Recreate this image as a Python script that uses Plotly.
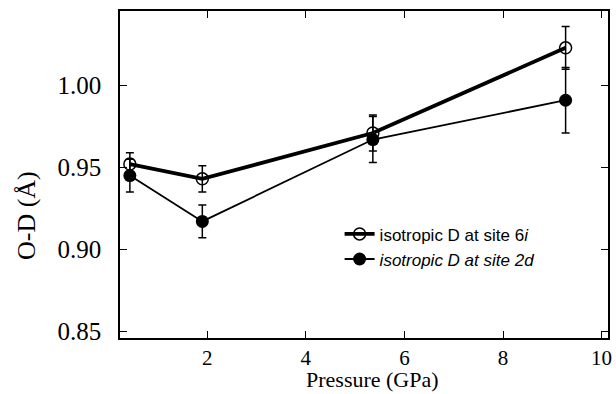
import plotly.graph_objects as go

pressure_6i = [0.43, 1.9, 5.36, 9.27]
od_6i = [0.952, 0.943, 0.971, 1.023]
err_6i = [0.007, 0.008, 0.011, 0.013]

pressure_2d = [0.43, 1.9, 5.36, 9.27]
od_2d = [0.945, 0.917, 0.967, 0.991]
err_2d = [0.010, 0.010, 0.014, 0.020]

x_ticks = [2, 4, 6, 8, 10]
y_ticks = [0.85, 0.90, 0.95, 1.00]
y_tick_labels = ["0.85", "0.90", "0.95", "1.00"]

fig = go.Figure()
fig.add_trace(go.Scatter(
    x=pressure_6i, y=od_6i, mode="lines+markers",
    name="isotropic D at site 6<i>i</i>",
    line=dict(color="black", width=3.8),
    marker=dict(symbol="circle-open", size=12, color="black", line=dict(width=1.5)),
    error_y=dict(type="data", array=err_6i, color="black", thickness=1.5, width=4),
))
fig.add_trace(go.Scatter(
    x=pressure_2d, y=od_2d, mode="lines+markers",
    name="<i>isotropic D at site 2d</i>",
    line=dict(color="black", width=1.8),
    marker=dict(symbol="circle", size=13, color="black"),
    error_y=dict(type="data", array=err_2d, color="black", thickness=1.5, width=4),
))

axis_common = dict(
    showline=True, linecolor="black", linewidth=1.5, mirror="ticks",
    ticks="inside", ticklen=7, tickwidth=1.2, tickcolor="black",
    showgrid=False, zeroline=False,
)
fig.update_xaxes(range=[0.23, 10.13], tickvals=x_ticks,
                 tickfont=dict(family="Liberation Serif", size=21, color="black"),
                 **axis_common)
fig.update_yaxes(range=[0.8458, 1.0455], tickvals=y_ticks, ticktext=y_tick_labels,
                 tickfont=dict(family="Liberation Serif", size=25, color="black"),
                 ticklabelstandoff=12,
                 **axis_common)

fig.add_annotation(text="Pressure (GPa)", xref="paper", yref="paper",
                   x=0.518, y=-0.172, xanchor="center", yanchor="bottom",
                   showarrow=False,
                   font=dict(family="Liberation Serif", size=22, color="black"))
fig.add_annotation(text="O-D (Å)", xref="paper", yref="paper",
                   x=0, xshift=-94, y=0.373, xanchor="center", yanchor="middle",
                   textangle=-90, showarrow=False,
                   font=dict(family="Liberation Serif", size=26, color="black"))

fig.update_layout(
    width=616, height=394,
    margin=dict(l=120, r=4, t=11, b=56),
    paper_bgcolor="white", plot_bgcolor="white",
    showlegend=True,
    legend=dict(x=0.45, y=0.372, xanchor="left", yanchor="top",
                font=dict(family="Liberation Sans", size=17, color="black"),
                bgcolor="rgba(0,0,0,0)", tracegroupgap=0, itemwidth=30),
)
fig.write_html("out.html", config={"displayModeBar": False},
               post_script="document.body.style.margin='0';document.body.style.overflow='hidden';")
